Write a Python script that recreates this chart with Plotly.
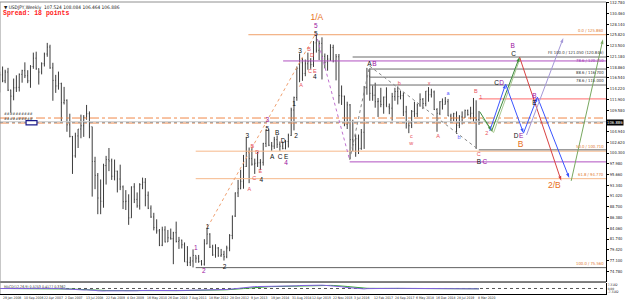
import plotly.graph_objects as go
import pandas as pd

# ---------------- DATA ----------------
months = pd.date_range("2006-01-01", "2020-04-01", freq="MS") + pd.Timedelta(days=14)
first_open = 117.9
high = [
    117.9, 119.0, 118.3, 118.7, 114.0, 116.4, 117.1, 117.5, 118.3, 119.9, 118.2, 119.3,
    122.0, 122.2, 118.6, 119.9, 122.0, 124.1, 123.7, 119.8, 117.2, 117.9, 115.5, 114.6,
    111.9, 108.8, 104.0, 104.7, 105.5, 108.6, 108.5, 110.7, 109.3, 106.0, 99.5, 96.0,
    94.6, 98.0, 99.7, 101.4, 99.1, 98.9, 96.5, 97.8, 93.3, 92.3, 91.4, 93.1,
    93.8, 91.8, 93.8, 95.0, 94.9, 92.0, 89.0, 87.4, 86.0, 83.9, 84.4, 84.5,
    83.7, 84.0, 83.3, 85.5, 82.2, 81.6, 81.0, 80.2, 77.9, 79.5, 78.2, 78.3,
    77.2, 81.7, 84.2, 83.0, 80.5, 80.6, 80.0, 79.6, 79.2, 80.3, 82.8, 86.8,
    91.8, 94.5, 96.7, 99.9, 103.7, 101.5, 101.5, 99.1, 100.6, 99.0, 102.5, 105.4,
    105.4, 102.7, 103.8, 104.1, 102.8, 102.8, 103.1, 104.5, 110.1, 112.5, 119.0, 121.8,
    120.8, 120.5, 122.0, 120.8, 124.5, 125.9, 124.6, 125.3, 121.8, 121.5, 123.8, 123.7,
    121.7, 121.7, 114.9, 112.7, 111.4, 110.9, 107.5, 104.3, 104.3, 105.5, 114.8, 118.7,
    118.6, 114.9, 115.5, 112.2, 114.4, 112.5, 114.5, 111.0, 113.3, 114.4, 114.7, 113.8,
    113.4, 110.5, 107.3, 109.6, 111.4, 111.0, 113.2, 112.2, 113.7, 114.55, 114.2, 113.8,
    110.0, 111.5, 112.1, 112.4, 112.0, 108.8, 109.0, 109.3, 108.5, 109.3, 109.7, 109.7,
    110.3, 112.2, 111.7, 109.4]
low = [
    113.4, 115.6, 115.4, 113.7, 109.0, 111.7, 113.5, 113.6, 115.5, 116.5, 115.4, 114.4,
    118.5, 118.3, 115.1, 117.3, 119.0, 121.1, 118.5, 111.6, 113.3, 114.0, 107.2, 110.8,
    104.9, 103.7, 95.8, 99.3, 101.4, 103.5, 103.8, 107.5, 103.5, 90.9, 92.5, 87.1,
    87.1, 88.5, 93.5, 96.4, 94.5, 94.4, 91.8, 92.3, 88.2, 88.0, 84.8, 86.3,
    89.5, 88.5, 88.1, 92.5, 88.8, 88.2, 86.3, 83.6, 82.9, 80.2, 80.2, 81.0,
    81.1, 81.6, 76.3, 81.0, 79.6, 79.7, 76.8, 75.9, 75.9, 75.6, 76.6, 76.6,
    76.0, 76.0, 80.6, 79.8, 78.1, 77.7, 77.9, 77.9, 77.1, 77.6, 79.1, 81.7,
    86.5, 90.8, 92.5, 92.6, 97.3, 93.8, 97.6, 95.8, 97.3, 96.6, 97.6, 101.6,
    101.8, 100.8, 101.2, 101.4, 100.8, 101.1, 101.1, 101.5, 104.0, 105.2, 111.6, 115.6,
    115.9, 116.9, 118.3, 118.5, 118.9, 122.0, 120.4, 116.2, 118.6, 118.1, 120.2, 119.9,
    116.0, 111.0, 110.7, 106.1, 105.5, 99.0, 100.7, 99.5, 100.1, 101.0, 101.2, 112.9,
    111.6, 111.6, 110.1, 108.1, 110.2, 108.8, 110.3, 108.7, 107.3, 111.6, 110.8, 111.9,
    108.3, 105.6, 104.6, 105.7, 108.1, 108.1, 110.3, 109.8, 110.4, 111.4, 112.3, 109.6,
    104.9, 108.5, 109.7, 110.8, 108.3, 106.8, 107.2, 104.45, 105.7, 106.5, 107.9, 108.4,
    107.6, 107.0, 101.2, 106.4]
close = [
    117.2, 115.9, 117.8, 113.9, 112.6, 114.4, 114.5, 117.3, 118.1, 117.0, 115.9, 119.0,
    120.8, 118.5, 117.8, 119.6, 121.7, 123.2, 118.7, 116.0, 114.8, 115.3, 111.2, 111.7,
    106.4, 103.9, 99.7, 104.0, 105.5, 106.2, 108.0, 108.8, 106.0, 98.5, 95.5, 90.6,
    89.9, 97.6, 98.9, 98.6, 95.3, 96.4, 94.7, 93.0, 89.8, 89.9, 86.3, 93.0,
    90.3, 88.9, 93.5, 94.0, 91.2, 88.4, 86.5, 84.2, 83.5, 80.4, 83.7, 81.1,
    82.0, 81.8, 83.1, 81.2, 81.5, 80.5, 76.8, 76.7, 77.0, 78.2, 77.6, 76.9,
    76.3, 80.7, 82.8, 80.0, 78.3, 79.8, 78.1, 78.4, 77.9, 79.8, 82.5, 86.7,
    91.7, 92.6, 94.2, 97.4, 100.5, 99.1, 97.9, 98.1, 98.2, 98.3, 102.4, 105.3,
    102.0, 101.8, 103.2, 102.2, 101.8, 101.3, 102.8, 104.1, 109.6, 112.3, 118.6, 119.8,
    117.5, 119.6, 120.1, 119.4, 124.1, 122.5, 124.0, 121.2, 119.9, 120.6, 123.1, 120.2,
    121.1, 112.7, 112.6, 106.5, 110.7, 103.2, 102.1, 103.4, 101.3, 104.8, 114.5, 116.9,
    113.2, 112.8, 111.4, 111.5, 110.8, 112.4, 110.3, 110.0, 112.5, 113.6, 112.5, 112.7,
    109.2, 106.7, 106.2, 109.3, 108.8, 110.7, 111.9, 111.0, 113.7, 112.9, 113.5, 109.7,
    108.9, 111.4, 110.8, 111.4, 108.3, 107.8, 108.8, 106.3, 108.1, 108.0, 109.5, 108.6,
    108.9, 107.9, 107.5, 106.886]
open_ = [first_open] + close[:-1]

x_range = ["2006-01-18", "2024-01-24"]
y_range = [72.45, 132.93]

price_ticks = [132.780, 130.460, 128.140, 125.820, 123.500, 121.180, 118.860, 116.540,
               114.220, 111.900, 109.580, 104.940, 102.620, 100.300, 97.980,
               95.660, 93.340, 91.020, 88.700, 86.380, 84.060, 81.740, 79.420, 77.100, 74.780]

date_tick_dates = ["2006-01-29", "2006-09-10", "2007-04-22", "2007-12-02", "2008-07-13",
                   "2009-02-22", "2009-10-04", "2010-05-16", "2010-12-26", "2011-08-07",
                   "2012-03-18", "2012-10-28", "2013-06-09", "2014-01-19", "2014-08-31",
                   "2015-04-12", "2015-11-22", "2016-07-03", "2017-02-12", "2017-09-24",
                   "2018-05-06", "2018-12-16", "2019-07-28", "2020-03-08"]
date_tick_text = ["29 Jan 2006", "10 Sep 2006", "22 Apr 2007", "2 Dec 2007", "13 Jul 2008",
                  "22 Feb 2009", "4 Oct 2009", "16 May 2010", "26 Dec 2010", "7 Aug 2011",
                  "18 Mar 2012", "28 Oct 2012", "9 Jun 2013", "19 Jan 2014", "31 Aug 2014",
                  "12 Apr 2015", "22 Nov 2015", "3 Jul 2016", "12 Feb 2017", "24 Sep 2017",
                  "6 May 2018", "16 Dec 2018", "28 Jul 2019", "8 Mar 2020"]

# wave labels (date, price, text)
black_dates = ["2012-03-21", "2012-09-21", "2013-05-27", "2013-10-25", "2013-12-29", "2014-02-21",
               "2014-04-16", "2014-05-18", "2014-06-19", "2014-07-22", "2014-10-16", "2014-11-06",
               "2014-12-20", "2015-05-30", "2015-06-10", "2017-01-10", "2020-04-13", "2021-04-26",
               "2020-10-24", "2021-12-08", "2021-05-23"]
black_prices = [84.3, 75.7, 104.0, 94.5, 105.5, 99.45, 104.6, 99.45, 102.9, 99.45, 110.9, 103.8,
                122.3, 116.7, 126.0, 119.5, 98.2, 121.7, 115.4, 111.0, 103.8]
black_texts = ["1", "2", "3", "4", "5", "A", "B", "C", "D", "E", "1", "2",
               "3", "4", "5", "A", "B", "C", "C", "E", "D"]

purple_dates = ["2011-11-13", "2012-02-08", "2013-12-29", "2014-07-22", "2015-06-10", "2017-03-07",
                "2020-06-17", "2021-04-15", "2020-12-17", "2021-12-08", "2021-07-16"]
purple_prices = [79.8, 74.8, 107.4, 98.0, 127.6, 119.5, 98.2, 123.4, 115.4, 112.5, 103.8]
purple_texts = ["1", "2", "3", "4", "5", "B", "C", "B", "D", "B", "E"]

red_dates = ["2013-06-18", "2013-07-20", "2013-08-10", "2013-09-12", "2013-10-14", "2014-12-30",
             "2015-03-27", "2015-04-06", "2015-04-28", "2015-05-30", "2019-01-27", "2020-03-12",
             "2020-04-13", "2020-05-05", "2020-07-08"]
red_prices = [92.5, 101.6, 94.7, 100.5, 96.2, 114.8, 122.6, 117.8, 121.3, 118.0, 103.8, 113.5,
              99.9, 112.2, 104.6]
red_texts = ["A", "B", "C", "D", "E", "A", "B", "C", "D", "E", "A", "B", "C", "1", "2"]

minor_red_dates = ["2017-12-02", "2018-10-21", "2018-04-11", "2018-04-11"]
minor_red_prices = [115.2, 115.2, 103.8, 102.3]
minor_red_texts = ["b", "x", "c", "w"]

minor_blue_dates = ["2019-05-14", "2019-09-10"]
minor_blue_prices = [113.06, 103.55]
minor_blue_texts = ["a", "b"]

orange_dates = ["2015-06-21", "2022-07-12", "2021-07-10"]
orange_prices = [129.6, 93.2, 102.1]
orange_texts = ["1/A", "2/B", "B"]

# projected paths
green_dates = ["2020-04-24", "2020-08-31", "2021-06-29"]
green_prices = [109.2, 105.1, 121.05]
olive_dates = ["2020-05-20", "2020-09-20", "2021-07-10"]
olive_prices = [107.9, 104.7, 121.05]
red_path_dates = ["2021-06-29", "2022-09-25"]
red_path_prices = [121.05, 94.3]
blue_dates = ["2020-08-10", "2021-01-29", "2021-08-11", "2022-01-09", "2022-12-21"]
blue_prices = [105.1, 115.2, 104.6, 112.4, 94.9]
lav_dates = ["2021-09-13", "2022-10-17"]
lav_prices = [104.2, 125.15]
green2_dates = ["2023-01-11", "2023-12-22"]
green2_prices = [94.3, 124.9]

# dotted swing lines
orange_dot_dates = ["2012-03-21", "2015-06-10"]
orange_dot_prices = [84.3, 126.2]
purple_dot_dates = ["2015-06-10", "2016-06-11"]
purple_dot_prices = [126.2, 98.8]
gray_dot_dates = ["2016-06-11", "2017-01-13", "2020-04-13"]
gray_dot_prices = [98.8, 119.1, 101.0]

# horizontal levels: price, start date, label
fib_orange_prices = [125.86, 100.71, 94.77]
fib_orange_starts = ["2013-06-07", "2011-11-13", "2011-11-13"]
fib_orange_labels = ["0.0 / 125.860", "50.0 / 100.710", "61.8 / 94.770"]
fib_bottom_price = 75.56
fib_bottom_label = "100.0 / 75.560"
gray_level_prices = [121.05, 118.45, 116.7, 115.0, 101.0]
gray_level_starts = ["2016-07-13", "2017-01-13", "2017-01-13", "2017-01-13", "2020-04-13"]
gray_level_labels = ["FE 100.0 / 121.050 (120.846)", "", "88.6 / 116.700", "78.6 / 115.000", ""]
purple_level_prices = [120.2, 98.4]
purple_level_starts = ["2014-06-19", "2016-06-11"]
purple_level_labels = ["78.6 / 120.210", ""]
red_level_price = 112.0
red_level_start = "2020-04-13"
pivot_prices = [107.87, 106.79]
pivot_labels = ["##########", "##########"]
grey_line_price = 107.07
current_price = 106.886

title_text = "▼ USDJPY,Weekly  107.524 108.084 106.464 106.886"
spread_text = "Spread: 18 points"
indicator_text = "MACD(12,26,9) 0.5753 0.4177 0.3362"

# ---------------- FIGURE ----------------
fig = go.Figure()
small = "DejaVu Sans Condensed, Liberation Sans Narrow, Liberation Sans, Arial, sans-serif"
lab_font = "Liberation Sans, Arial, sans-serif"


def hline(price, start, color, dash="solid", width=1, end=None):
    fig.add_trace(go.Scatter(x=[start, end or x_range[1]], y=[price, price], mode="lines",
                             line=dict(color=color, width=width, dash=dash),
                             hoverinfo="skip", showlegend=False, xaxis="x", yaxis="y"))


for p in pivot_prices:
    hline(p, x_range[0], "#f08848", dash="dashdot")
hline(grey_line_price, x_range[0], "#c8c8c8")
hline(current_price, x_range[0], "#a0a0a0", dash="dot")

for p, s in zip(fib_orange_prices, fib_orange_starts):
    hline(p, s, "#f6b88a" if p < 120 else "#f0a06a")
hline(fib_bottom_price, fib_orange_starts[1], "#606060")
for p, s in zip(gray_level_prices, gray_level_starts):
    hline(p, s, "#6a6a6a")
for p, s in zip(purple_level_prices, purple_level_starts):
    hline(p, s, "#b050c0")
hline(red_level_price, red_level_start, "#ff6a6a")

fig.add_trace(go.Ohlc(x=months, open=open_, high=high, low=low, close=close,
                      increasing=dict(line=dict(color="#3c3c3c", width=1)),
                      decreasing=dict(line=dict(color="#3c3c3c", width=1)),
                      tickwidth=0.25, hoverinfo="skip", showlegend=False,
                      xaxis="x", yaxis="y"))


def path(dates, prices, color, dash="solid", width=1, arrows=False):
    fig.add_trace(go.Scatter(
        x=dates, y=prices, mode="lines+markers" if arrows else "lines",
        line=dict(color=color, width=width, dash=dash),
        marker=dict(symbol="arrow", angleref="previous", size=5, color=color) if arrows else None,
        hoverinfo="skip", showlegend=False, xaxis="x", yaxis="y", cliponaxis=False))


path(orange_dot_dates, orange_dot_prices, "#f0a070", dash="dot")
path(purple_dot_dates, purple_dot_prices, "#c070d0", dash="dot")
path(gray_dot_dates, gray_dot_prices, "#888888", dash="dot")

path(olive_dates, olive_prices, "#a8c890", arrows=True)
path(green_dates, green_prices, "#3c8a3c", arrows=True)
path(red_path_dates, red_path_prices, "#d84040", arrows=True)
path(blue_dates, blue_prices, "#3a55ff", arrows=True)
path(lav_dates, lav_prices, "#a498d8", arrows=True)
path(green2_dates, green2_prices, "#78a860", arrows=True)


def texts(dates, prices, txt, color, size):
    fig.add_trace(go.Scatter(x=dates, y=prices, mode="text", text=txt,
                             textfont=dict(color=color, size=size, family=lab_font),
                             textposition="middle center", hoverinfo="skip",
                             showlegend=False, cliponaxis=False, xaxis="x", yaxis="y"))


texts(black_dates, black_prices, black_texts, "#111111", 6.5)
texts(purple_dates, purple_prices, purple_texts, "#9a10a0", 6.5)
texts(red_dates, red_prices, red_texts, "#e8505a", 5.5)
texts(minor_red_dates, minor_red_prices, minor_red_texts, "#e8505a", 5.5)
texts(minor_blue_dates, minor_blue_prices, minor_blue_texts, "#5a5aff", 5.5)
texts(orange_dates, orange_prices, orange_texts, "#e87020", 8.5)

cs = pd.Series(close)
macd = cs.ewm(span=12, adjust=False).mean() - cs.ewm(span=26, adjust=False).mean()
signal = macd.ewm(span=9, adjust=False).mean()
fig.add_trace(go.Scatter(x=x_range, y=[0, 0], mode="lines",
                         line=dict(color="#555555", width=1, dash="dot"),
                         hoverinfo="skip", showlegend=False, xaxis="x2", yaxis="y2"))
fig.add_trace(go.Scatter(x=months, y=signal, mode="lines", line=dict(color="#30a030", width=1),
                         hoverinfo="skip", showlegend=False, xaxis="x2", yaxis="y2"))
fig.add_trace(go.Scatter(x=months, y=macd, mode="lines", line=dict(color="#8060e0", width=1),
                         hoverinfo="skip", showlegend=False, xaxis="x2", yaxis="y2"))
ind_max = float(max(macd.abs().max(), signal.abs().max())) * 1.6

annotations = []
for p, lab in zip(fib_orange_prices, fib_orange_labels):
    annotations.append(dict(x=1.0, xref="paper", y=p, yref="y", text=lab, showarrow=False,
                            xanchor="right", yanchor="bottom", font=dict(size=4.2, color="#e07830", family=small)))
annotations.append(dict(x=1.0, xref="paper", y=fib_bottom_price, yref="y", text=fib_bottom_label,
                        showarrow=False, xanchor="right", yanchor="bottom",
                        font=dict(size=4.2, color="#e07830", family=small)))
for p, lab in zip(gray_level_prices, gray_level_labels):
    if lab:
        annotations.append(dict(x=1.0, xref="paper", y=p, yref="y", text=lab, showarrow=False,
                                xanchor="right", yanchor="bottom", font=dict(size=4.2, color="#333333", family=small)))
for p, lab in zip(purple_level_prices, purple_level_labels):
    if lab:
        annotations.append(dict(x=1.0, xref="paper", y=p, yref="y", text=lab, showarrow=False,
                                xanchor="right", yanchor="middle", font=dict(size=4.2, color="#a030b0", family=small)))
for p, lab in zip(pivot_prices, pivot_labels):
    annotations.append(dict(x=0.004, xref="paper", y=p, yref="y", text=lab, showarrow=False,
                            xanchor="left", yanchor="bottom", font=dict(size=3.8, color="#444444", family=small)))
annotations.append(dict(x=1.0, xref="paper", y=current_price, yref="y", text=f"{current_price:.3f}",
                        showarrow=False, xanchor="left", yanchor="middle", bgcolor="#000000",
                        borderpad=0, font=dict(size=4.2, color="#ffffff", family=small)))
for d, t in zip(date_tick_dates, date_tick_text):
    annotations.append(dict(x=d, xref="x", y=-0.014, yref="paper", text=t, showarrow=False,
                            xanchor="left", yanchor="middle", font=dict(size=3.4, color="#222222", family=small)))
annotations.append(dict(x=0.003, xref="paper", y=0.997, yref="paper", text=title_text, showarrow=False,
                        xanchor="left", yanchor="top", font=dict(size=4.8, color="#222222", family=small)))
annotations.append(dict(x=0.002, xref="paper", y=0.978, yref="paper", text="<b>" + spread_text + "</b>",
                        showarrow=False, xanchor="left", yanchor="top",
                        font=dict(size=6.5, color="#ff2020", family="Liberation Mono, DejaVu Sans Mono, monospace")))
annotations.append(dict(x=0.003, xref="paper", y=0.0375, yref="paper", text=indicator_text,
                        showarrow=False, xanchor="left", yanchor="top",
                        font=dict(size=3.6, color="#333333", family=small)))

shapes = [
    dict(type="rect", xref="paper", yref="paper", x0=0.043, x1=0.061, y0=0.579, y1=0.594,
         line=dict(color="#1a1a8a", width=1.2), fillcolor="#ffffff"),
    dict(type="line", xref="paper", yref="paper", x0=0, x1=1, y0=0.041, y1=0.041,
         line=dict(color="#000000", width=1)),
    dict(type="line", xref="paper", yref="paper", x0=0, x1=1, y0=1, y1=1,
         line=dict(color="#909090", width=1)),
    dict(type="line", xref="paper", yref="paper", x0=0, x1=0, y0=0, y1=1,
         line=dict(color="#909090", width=1)),
]

fig.update_layout(
    width=625, height=301,
    margin=dict(l=0, r=15, t=2, b=7),
    paper_bgcolor="#ffffff", plot_bgcolor="#ffffff",
    showlegend=False,
    xaxis=dict(domain=[0, 1], range=x_range, type="date", anchor="y", showgrid=False,
               showticklabels=False, zeroline=False, rangeslider=dict(visible=False),
               showline=False, ticks=""),
    yaxis=dict(domain=[0.041, 1], range=y_range, side="right", anchor="x", showgrid=False,
               zeroline=False, tickvals=price_ticks, ticktext=[f"{v:.3f}" for v in price_ticks],
               tickfont=dict(size=4, color="#222222", family=small), ticks="outside",
               ticklen=2, tickcolor="#000000", showline=True, linecolor="#000000", linewidth=1),
    xaxis2=dict(domain=[0, 1], range=x_range, type="date", anchor="y2", matches="x",
                showgrid=False, showticklabels=False, zeroline=False, showline=True,
                linecolor="#000000", ticks=""),
    yaxis2=dict(domain=[0, 0.0377], range=[-ind_max, ind_max], side="right", anchor="x2",
                showgrid=False, zeroline=False,
                tickvals=[ind_max * 0.6, 0, -ind_max * 0.6],
                ticktext=[f"{ind_max * 0.6:.4f}", "0.00", f"{-ind_max * 0.6:.4f}"],
                tickfont=dict(size=3.2, color="#222222", family=small), ticks="",
                showline=True, linecolor="#000000"),
    annotations=annotations,
    shapes=shapes,
)

fig.write_html("out.html")
